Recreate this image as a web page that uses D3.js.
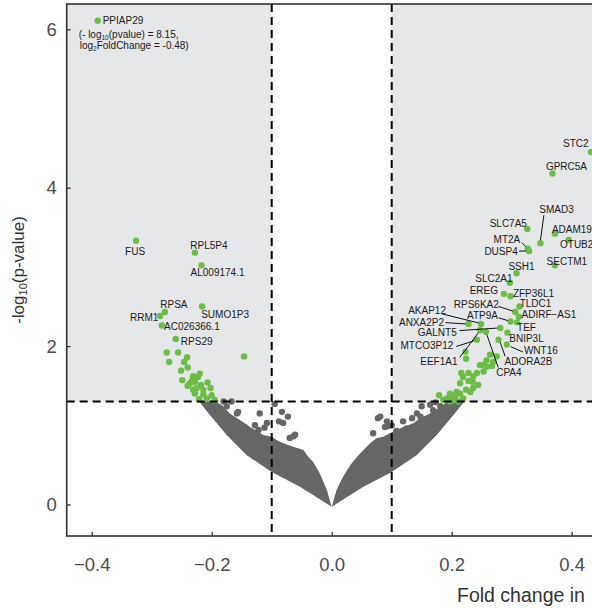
<!DOCTYPE html>
<html>
<head>
<meta charset="utf-8">
<script src="https://cdn.jsdelivr.net/npm/d3@7"></script>
<style>
  body { margin: 0; background: #fff; }
  svg { display: block; font-family: "Liberation Sans", Arial, sans-serif; }
</style>
</head>
<body>
<svg id="chart" width="592" height="612"></svg>
<script>
// Labelled significant genes: fold change and -log10(p)
var geneNames = ["PPIAP29", "FUS", "RPL5P4", "AL009174.1", "RPSA", "RRM1", "SUMO1P3", "AC026366.1", "RPS29",
  "STC2", "GPRC5A", "SMAD3", "SLC7A5", "ADAM19", "OTUB2", "MT2A", "DUSP4", "SECTM1", "SSH1", "SLC2A1",
  "EREG", "ZFP36L1", "TLDC1", "RPS6KA2", "ADIRF\u2212AS1", "ATP9A", "TEF", "AKAP12", "ANXA2P2", "GALNT5",
  "BNIP3L", "MTCO3P12", "WNT16", "ADORA2B", "CPA4", "EEF1A1"];
var geneFc = [-0.390, -0.326, -0.228, -0.217, -0.278, -0.286, -0.216, -0.283, -0.260,
  0.432, 0.368, 0.348, 0.326, 0.372, 0.395, 0.327, 0.329, 0.372, 0.308, 0.297,
  0.287, 0.298, 0.313, 0.306, 0.312, 0.298, 0.309, 0.249, 0.228, 0.281,
  0.293, 0.242, 0.292, 0.278, 0.257, 0.247];
var geneLogp = [6.11, 3.33, 3.18, 3.02, 2.43, 2.38, 2.50, 2.26, 2.09,
  4.45, 4.18, 3.30, 3.48, 3.42, 3.34, 3.23, 3.20, 3.02, 2.92, 2.80,
  2.66, 2.63, 2.50, 2.43, 2.37, 2.31, 2.30, 2.28, 2.28, 2.23,
  2.17, 2.08, 2.02, 2.08, 2.18, 2.20];

// Other significant genes (green, no label)
var sigFc = [-0.275, -0.256, -0.241, -0.271, -0.246, -0.240, -0.251, -0.220, -0.231, -0.249,
  -0.233, -0.228, -0.236, -0.218, -0.207, -0.225, -0.231, -0.214, -0.202, -0.228,
  -0.214, -0.221, -0.208, -0.200, -0.195, -0.240, -0.223, -0.146,
  0.264, 0.258, 0.269, 0.267, 0.258, 0.253, 0.253, 0.275, 0.216, 0.219,
  0.228, 0.236, 0.242, 0.228, 0.235, 0.214, 0.236, 0.224, 0.214, 0.208,
  0.219, 0.197, 0.200, 0.203, 0.206, 0.194, 0.186, 0.197, 0.211, 0.244,
  0.179, 0.192, 0.231, 0.247, 0.223, 0.224];
var sigLogp = [1.92, 1.92, 1.86, 1.80, 1.80, 1.73, 1.69, 1.65, 1.62, 1.57,
  1.56, 1.55, 1.53, 1.51, 1.54, 1.47, 1.45, 1.45, 1.47, 1.40,
  1.39, 1.33, 1.34, 1.38, 1.32, 1.50, 1.61, 1.87,
  1.89, 1.82, 1.80, 1.75, 1.74, 1.76, 1.68, 1.87, 1.66, 1.61,
  1.66, 1.62, 1.66, 1.56, 1.55, 1.53, 1.47, 1.45, 1.40, 1.42,
  1.34, 1.40, 1.37, 1.32, 1.36, 1.34, 1.32, 1.30, 1.30, 1.51,
  1.38, 1.34, 1.42, 1.76, 1.93, 1.84];

// Non-significant outliers above the dense cloud (grey)
var nsFc = [-0.167, -0.156, -0.158, -0.120, -0.095, -0.083, -0.073, -0.081, -0.088, -0.108,
  -0.122, -0.064, -0.136, -0.145, -0.175, -0.128, -0.061, -0.070, -0.180, -0.112,
  0.069, 0.081, 0.092, 0.094, 0.108, 0.119, 0.125, 0.142, 0.148, 0.150,
  0.164, 0.169, 0.181, 0.157, 0.089, 0.077, 0.182, 0.134, 0.173, 0.100];
var nsLogp = [1.30, 1.17, 1.15, 1.15, 1.27, 1.17, 1.11, 1.03, 1.05, 1.03,
  0.94, 0.86, 0.92, 0.98, 1.24, 1.00, 0.88, 0.84, 1.30, 0.97,
  0.90, 1.11, 1.05, 0.99, 0.93, 1.05, 0.96, 1.15, 1.11, 1.24,
  1.26, 1.19, 1.24, 1.07, 0.98, 1.09, 1.17, 1.09, 1.29, 1.00];

// Outline of the dense cloud of non-significant genes (left and right halves)
var cloudLeftFc = [0, -0.053, -0.100, -0.142, -0.175, -0.203, -0.221,
  -0.195, -0.183, -0.170, -0.153, -0.136, -0.114, -0.100, -0.092, -0.081, -0.064, -0.047, -0.039, -0.031, -0.020, -0.008];
var cloudLeftLogp = [-0.03, 0.225, 0.41, 0.625, 0.877, 1.13, 1.30,
  1.30, 1.256, 1.15, 1.067, 0.98, 0.877, 0.856, 0.814, 0.773, 0.73, 0.688, 0.60, 0.54, 0.394, 0.183];
var cloudRightFc = [0, 0.008, 0.019, 0.031, 0.042, 0.053, 0.064, 0.075, 0.086, 0.097, 0.108, 0.119, 0.136, 0.147, 0.164, 0.181, 0.194,
  0.221, 0.203, 0.175, 0.142, 0.100, 0.053];
var cloudRightLogp = [-0.03, 0.183, 0.35, 0.50, 0.60, 0.688, 0.773, 0.836, 0.856, 0.90, 0.94, 0.98, 1.025, 1.09, 1.15, 1.235, 1.30,
  1.30, 1.13, 0.877, 0.625, 0.41, 0.225];

var xTicks = [-0.4, -0.2, 0.0, 0.2, 0.4];
var yTicks = [0, 2, 4, 6];
var fcCut = 0.1, pCut = 1.3;

// label placement: [dx, dy] from the dot, optional leader [x1, y1, x2, y2] (pixels, relative to dot)
var labelLayout = {
  "FUS": [-1, 11], "RPL5P4": [14, -7], "AL009174.1": [16, 7], "RPSA": [9, -8], "RRM1": [-16, 1],
  "SUMO1P3": [23, 8], "AC026366.1": [30, 1], "RPS29": [21, 3],
  "STC2": [-15, -9], "GPRC5A": [14, -7], "SMAD3": [16, -34, [3.4, -28, 0, -3]], "SLC7A5": [-19, -5],
  "ADAM19": [17, -4], "OTUB2": [8, 5], "MT2A": [-21, -9, [-6, -6, -2, -2]], "DUSP4": [-28, 0, [-10, 0, -3, 0]],
  "SECTM1": [12, -4], "SSH1": [5, -7], "SLC2A1": [-16, -4], "EREG": [-20, -3], "ZFP36L1": [23, -3],
  "TLDC1": [16, -3], "RPS6KA2": [-39, -8, [-17, -5.7, -2.5, -1]], "ADIRF\u2212AS1": [30, -2],
  "ATP9A": [-28, -6.4, [-11.7, -3.7, -2.7, -1]], "TEF": [9.4, 5.3],
  "AKAP12": [-54, -13, [-39, -10, -2.5, -1]], "ANXA2P2": [-47, -1, [-23, -1.3, -2.8, 0]],
  "GALNT5": [-63, 5, [-40.7, 2.7, -3, 0.2]], "BNIP3L": [19, 6],
  "MTCO3P12": [-50, 6, [-20.7, 6.7, -2.7, 1]], "WNT16": [34, 6, [3.8, 2.2, 16, 7.4]],
  "ADORA2B": [30, 22, [1.7, 2.7, 6.7, 16.7]], "CPA4": [23, 41, [1, 2.8, 12.3, 35.6]],
  "EEF1A1": [-41, 31.7, [-20, 27, -1.5, 2.5]]
};

var svg = d3.select("#chart");

// Scales
var x = d3.scaleLinear().domain([-0.4417, 0.4417]).range([66.7, 596.7]);
var y = d3.scaleLinear().domain([-0.398, 6.32]).range([536, 4]);

var green = "#6cbd45", grey = "#666666";

// Shaded significance regions
var shade = svg.append("g");
shade.append("rect")
  .attr("x", x.range()[0]).attr("y", y.range()[1])
  .attr("width", x(-fcCut) - x.range()[0]).attr("height", y(pCut) - y.range()[1])
  .attr("fill", "#e6e7e9");
shade.append("rect")
  .attr("x", x(fcCut)).attr("y", y.range()[1])
  .attr("width", x.range()[1] - x(fcCut)).attr("height", y(pCut) - y.range()[1])
  .attr("fill", "#e6e7e9");

// Dense cloud
var line = d3.line().x(function (d) { return x(d[0]); }).y(function (d) { return y(d[1]); });
var cloudLeft = d3.zip(cloudLeftFc, cloudLeftLogp);
var cloudRight = d3.zip(cloudRightFc, cloudRightLogp);
svg.append("path").attr("d", line(cloudLeft) + "Z").attr("fill", grey);
svg.append("path").attr("d", line(cloudRight) + "Z").attr("fill", grey);

// Grey outliers
svg.append("g").selectAll("circle")
  .data(d3.zip(nsFc, nsLogp))
  .enter().append("circle")
  .attr("cx", function (d) { return x(d[0]); })
  .attr("cy", function (d) { return y(d[1]); })
  .attr("r", 3.2)
  .attr("fill", grey);

// Green significant points
svg.append("g").selectAll("circle")
  .data(d3.zip(sigFc, sigLogp).concat(d3.zip(geneFc, geneLogp)))
  .enter().append("circle")
  .attr("cx", function (d) { return x(d[0]); })
  .attr("cy", function (d) { return y(d[1]); })
  .attr("r", 3.2)
  .attr("fill", green);

// Threshold lines
var dash = svg.append("g").attr("stroke", "#000").attr("stroke-width", 2).attr("stroke-dasharray", "8,5");
[-fcCut, fcCut].forEach(function (v) {
  dash.append("line").attr("x1", x(v)).attr("x2", x(v)).attr("y1", y.range()[1]).attr("y2", y.range()[0]);
});
dash.append("line").attr("x1", x.range()[0]).attr("x2", x.range()[1]).attr("y1", y(pCut)).attr("y2", y(pCut));

// Axes
var xAxis = d3.axisBottom(x).tickValues(xTicks).tickFormat(d3.format(".1f")).tickSizeInner(-4).tickSizeOuter(0).tickPadding(22);
var yAxis = d3.axisLeft(y).tickValues(yTicks).tickFormat(d3.format("d")).tickSizeInner(-4).tickSizeOuter(0).tickPadding(10);

var gx = svg.append("g").attr("transform", "translate(0," + y.range()[0] + ")").call(xAxis);
var gy = svg.append("g").attr("transform", "translate(" + x.range()[0] + ",0)").call(yAxis);
[gx, gy].forEach(function (g) {
  g.select(".domain").remove();
  g.selectAll(".tick line").attr("stroke", "#333").attr("stroke-width", 1.3);
  g.selectAll(".tick text").attr("fill", "#4d4d4d").style("font-size", "18.5px")
    .style("font-family", "'Liberation Sans', Arial, sans-serif");
});

// Frame
svg.append("rect")
  .attr("x", x.range()[0]).attr("y", y.range()[1])
  .attr("width", x.range()[1] - x.range()[0]).attr("height", y.range()[0] - y.range()[1])
  .attr("fill", "none").attr("stroke", "#333").attr("stroke-width", 1.6);

// Gene labels
var labels = svg.append("g").style("font-size", "10px").attr("fill", "#1a1a1a");
geneNames.forEach(function (name, i) {
  var px = x(geneFc[i]), py = y(geneLogp[i]);
  if (name === "PPIAP29") {
    labels.append("text").attr("x", px + 5).attr("y", py).attr("dy", "0.35em").text(name);
    var t1 = labels.append("text").attr("x", px - 19).attr("y", py + 13.5).attr("dy", "0.35em");
    t1.append("tspan").text("(- log");
    t1.append("tspan").attr("font-size", "6.5px").attr("dy", "2").text("10");
    t1.append("tspan").attr("dy", "-2").text("(pvalue) = 8.15,");
    var t2 = labels.append("text").attr("x", px - 18).attr("y", py + 24.5).attr("dy", "0.35em");
    t2.append("tspan").text("log");
    t2.append("tspan").attr("font-size", "6.5px").attr("dy", "2").text("2");
    t2.append("tspan").attr("dy", "-2").text("FoldChange = -0.48)");
    return;
  }
  var lay = labelLayout[name];
  if (lay[2]) {
    labels.append("line")
      .attr("x1", px + lay[2][0]).attr("y1", py + lay[2][1])
      .attr("x2", px + lay[2][2]).attr("y2", py + lay[2][3])
      .attr("stroke", "#111").attr("stroke-width", 1);
  }
  labels.append("text")
    .attr("x", px + lay[0]).attr("y", py + lay[1])
    .attr("dy", "0.35em").attr("text-anchor", "middle")
    .text(name);
});

// Axis titles
var yt = svg.append("text")
  .attr("transform", "translate(24,270) rotate(-90)")
  .attr("text-anchor", "middle").attr("fill", "#333").style("font-size", "17px");
yt.append("tspan").text("-log");
yt.append("tspan").attr("font-size", "11px").attr("dy", "3").text("10");
yt.append("tspan").attr("dy", "-3").text("(p-value)");

svg.append("text")
  .attr("x", 457).attr("y", 602)
  .attr("fill", "#333").style("font-size", "19.5px")
  .text("Fold change in");
</script>
</body>
</html>
